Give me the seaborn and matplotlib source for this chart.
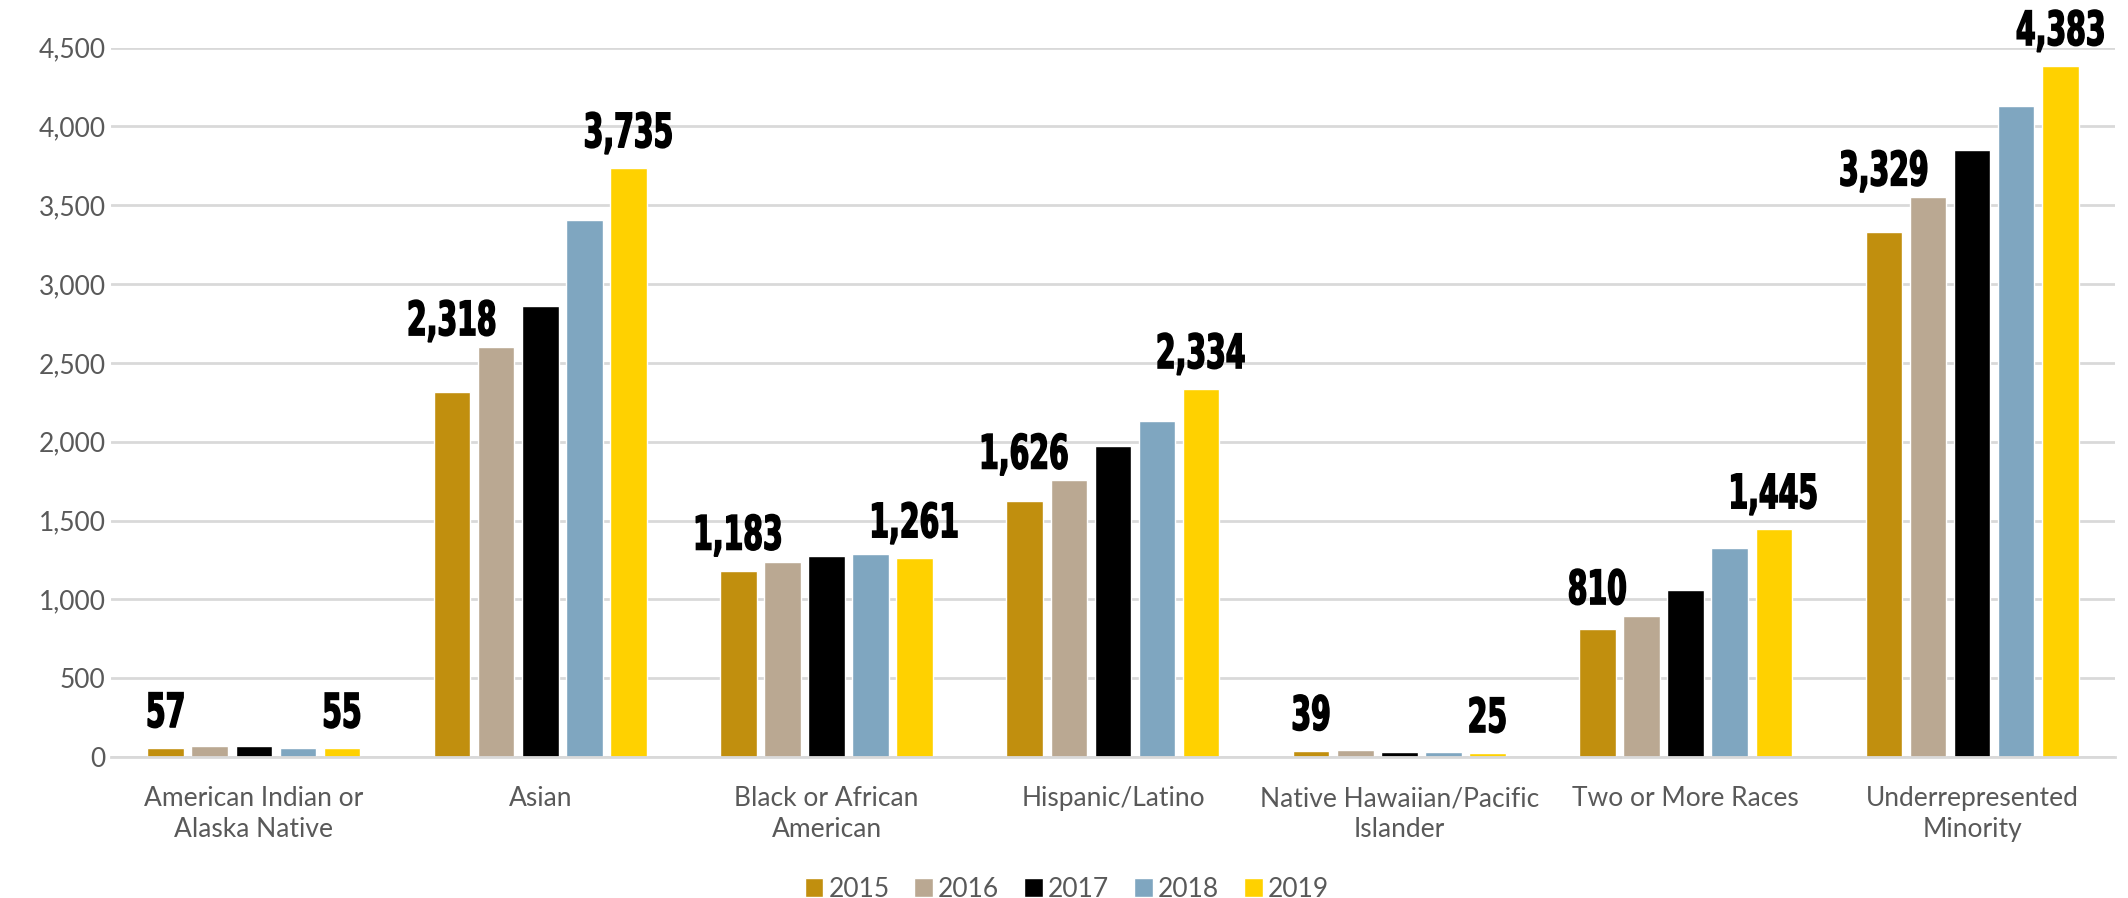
import numpy as np
import pandas as pd
import matplotlib
matplotlib.use('Agg')
import matplotlib.pyplot as plt
import seaborn as sns
from matplotlib.textpath import TextPath
from matplotlib.patches import PathPatch
from matplotlib.font_manager import FontProperties
from matplotlib.transforms import Affine2D, ScaledTranslation

# data
categories = ['American Indian or\nAlaska Native', 'Asian', 'Black or African\nAmerican',
              'Hispanic/Latino', 'Native Hawaiian/Pacific\nIslander', 'Two or More Races',
              'Underrepresented\nMinority']
years = ['2015', '2016', '2017', '2018', '2019']
v2015 = [57, 2318, 1183, 1626, 39, 810, 3329]
v2016 = [68, 2600, 1238, 1754, 45, 894, 3550]
v2017 = [70, 2858, 1273, 1975, 32, 1058, 3848]
v2018 = [60, 3408, 1290, 2133, 30, 1324, 4128]
v2019 = [55, 3735, 1261, 2334, 25, 1445, 4383]

colors = ['#C18F0E', '#BAA892', '#000000', '#7FA6C0', '#FFD100']

series = [v2015, v2016, v2017, v2018, v2019]
df = pd.DataFrame({
    'category': np.tile(categories, len(years)),
    'year': np.repeat(years, len(categories)),
    'value': np.concatenate(series),
})

DPI = 100
sns.set_theme(style='white')
plt.rcParams['font.family'] = ['Lato', 'DejaVu Sans']

fig = plt.figure(figsize=(21.28, 8.98), dpi=DPI)
ax = fig.add_axes([0.052, 0.157, 0.942, 0.79])

sns.barplot(data=df, x='category', y='value', hue='year', palette=colors,
            width=0.77, gap=0.17, ax=ax, saturation=1, legend=True)

ax.set_yticks(np.arange(0, 4501, 500))
ax.set_yticklabels([f'{t:,}' for t in range(0, 4501, 500)])
ax.yaxis.grid(True, color='#d9d9d9', linewidth=2)
ax.set_axisbelow(True)
for s in ['top', 'right', 'left']:
    ax.spines[s].set_visible(False)
ax.spines['bottom'].set_color('#d9d9d9')
ax.spines['bottom'].set_linewidth(2)
ax.set_xlabel('')
ax.set_ylabel('')
ax.tick_params(axis='both', length=0, labelsize=19, labelcolor='#595959')
ax.tick_params(axis='x', pad=21)
for lab in ax.get_xticklabels():
    lab.set_linespacing(1.3)

# condensed heavy value labels (no Impact installed, so squeeze a bold path)
label_font = FontProperties(family='DejaVu Sans', weight='bold')
px = DPI / 72


def value_label(x, y, off_px, text):
    path = TextPath((0, 0), text, size=34, prop=label_font)
    ext = path.get_extents()
    tr = (Affine2D().translate(-(ext.x0 + ext.x1) / 2, 0).scale(0.6 * px, px)
          .translate(0, off_px) + ScaledTranslation(x, y, ax.transData))
    ax.add_artist(PathPatch(path, transform=tr, facecolor='black', edgecolor='black',
                            linewidth=1.1, clip_on=False))


# first and last year get labels, lifted above the taller neighbour bar
for idx, nb in [(0, 1), (4, 3)]:
    for i, bar in enumerate(ax.containers[idx]):
        xc = bar.get_x() + bar.get_width() / 2
        own, other = series[idx][i], series[nb][i]
        # 1 data unit ~ 0.1576 px
        if other * 0.1576 + 12 > own * 0.1576 + 21:
            value_label(xc, other, 12, f'{own:,}')
        else:
            value_label(xc, own, 21, f'{own:,}')

ax.set_ylim(0, 4500)
ax.set_xlim(-0.5, len(categories) - 0.5)

ax.legend(loc='upper center', bbox_to_anchor=(0.477, -0.135), ncol=5, frameon=False,
          fontsize=19, handlelength=0.7, handleheight=0.7, handletextpad=0.2,
          columnspacing=0.95, labelcolor='#595959')

fig.savefig('out.png', dpi=DPI)
